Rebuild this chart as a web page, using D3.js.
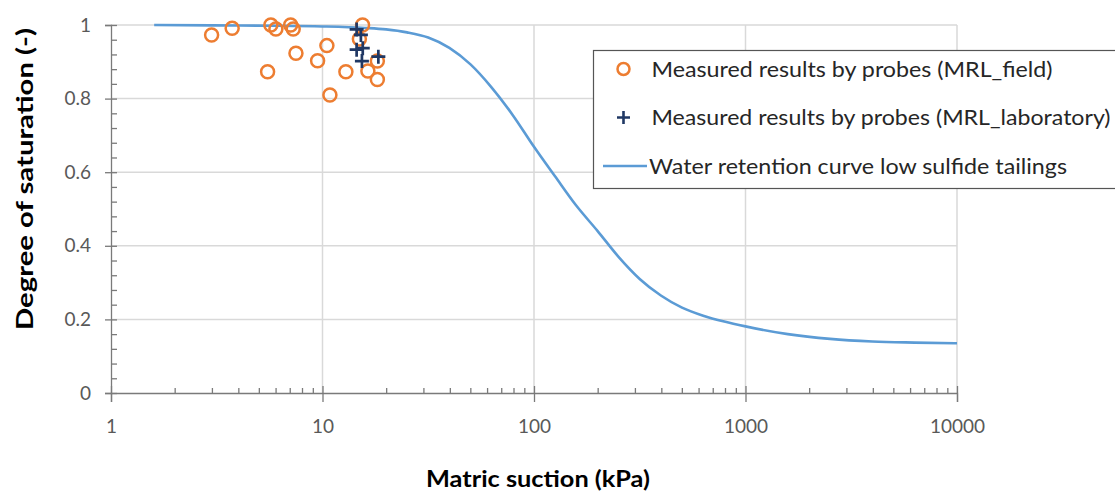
<!DOCTYPE html>
<html><head><meta charset="utf-8">
<script src="https://cdn.jsdelivr.net/npm/d3@7"></script>
<style>
body{margin:0;background:#fff;}
svg{display:block;font-family:Lato,"Open Sans",sans-serif;}
</style>
</head><body>
<svg id="chart" width="1115" height="491"></svg>
<script>
// ---- data ----
const fieldSuction    = [2.99, 3.74, 5.70, 6.02, 7.07, 7.27, 5.50, 7.49, 9.48, 10.49, 10.84, 15.47, 14.94, 12.90, 16.39, 18.17, 18.17];
const fieldSaturation = [0.973, 0.991, 1.0, 0.989, 1.0, 0.989, 0.873, 0.923, 0.903, 0.944, 0.810, 1.0, 0.962, 0.873, 0.875, 0.852, 0.902];
const labSuction      = [14.5, 15.19, 14.5, 15.5, 15.36, 18.37];
const labSaturation   = [0.988, 0.973, 0.933, 0.937, 0.902, 0.914];
const curveSuction    = [1.6, 3, 6, 10, 15.8, 20, 25.1, 31.6, 39.8, 50.1, 63.1, 79.4, 100, 126, 158, 200, 251, 316, 398, 501, 631, 794, 1000, 1585, 2512, 3981, 6310, 10000];
const curveSaturation = [1.0, 0.999, 0.998, 0.996, 0.992, 0.988, 0.980, 0.966, 0.938, 0.893, 0.830, 0.755, 0.669, 0.588, 0.510, 0.440, 0.370, 0.310, 0.265, 0.232, 0.210, 0.194, 0.181, 0.160, 0.147, 0.140, 0.137, 0.135];
const xTickValues = [1, 10, 100, 1000, 10000];
const xTickLabels = ["1", "10", "100", "1000", "10000"];
const yTickValues = [0, 0.2, 0.4, 0.6, 0.8, 1];
const yTickLabels = ["0", "0.2", "0.4", "0.6", "0.8", "1"];
const legendLabels = [
  "Measured results by probes (MRL_field)",
  "Measured results by probes (MRL_laboratory)",
  "Water retention curve low sulfide tailings"
];
const xTitle = "Matric suction (kPa)";
const yTitle = "Degree of saturation (-)";

// ---- layout ----
const svg = d3.select("#chart");
const pLeft = 111, pRight = 957, pTop = 25, pBottom = 393;
const x = d3.scaleLog().domain([1, 10000]).range([pLeft, pRight]);
const y = d3.scaleLinear().domain([0, 1]).range([pBottom, pTop]);

const orange = "#ED7D31", navy = "#203864", blue = "#5B9BD5";
const axisColor = "#7a7a7a", gridColor = "#d9d9d9", labelColor = "#595959";

// gridlines
const grid = svg.append("g");
grid.selectAll("line.h").data(yTickValues.filter(v => v > 0)).join("line").attr("class", "h")
  .attr("x1", pLeft).attr("x2", pRight).attr("y1", d => y(d)).attr("y2", d => y(d))
  .attr("stroke", gridColor).attr("stroke-width", 1.5);
grid.selectAll("line.v").data(xTickValues.filter(v => v > 1)).join("line").attr("class", "v")
  .attr("x1", d => x(d)).attr("x2", d => x(d)).attr("y1", pTop).attr("y2", pBottom)
  .attr("stroke", gridColor).attr("stroke-width", 1.5);

// minor tick values (2..9 per decade, 0.04 steps)
const xMinor = [];
for (let d = 1; d < 10000; d *= 10) for (let k = 2; k <= 9; k++) xMinor.push(d * k);
const yMinor = d3.range(0, 1.0001, 0.04).filter(v => Math.abs(v * 5 - Math.round(v * 5)) > 1e-6);

// x axis
const gx = svg.append("g").attr("transform", `translate(0,${pBottom})`)
  .call(d3.axisBottom(x).tickValues(xTickValues).tickSize(9).tickPadding(18)
    .tickFormat((d, i) => xTickLabels[i]));
gx.selectAll(".tick line").attr("y1", -7);
const gxm = svg.append("g").attr("transform", `translate(0,${pBottom})`)
  .call(d3.axisTop(x).tickValues(xMinor).tickSize(5).tickFormat(""));
gxm.select(".domain").remove();

// y axis
const gy = svg.append("g").attr("transform", `translate(${pLeft},0)`)
  .call(d3.axisLeft(y).tickValues(yTickValues).tickSize(6).tickPadding(14)
    .tickFormat((d, i) => yTickLabels[i]));
gy.selectAll(".tick line").attr("x1", 6);
const gym = svg.append("g").attr("transform", `translate(${pLeft},0)`)
  .call(d3.axisRight(y).tickValues(yMinor).tickSize(6).tickFormat(""));
gym.select(".domain").remove();

svg.selectAll(".domain, .tick line").attr("stroke", axisColor).attr("stroke-width", 1.3);
svg.selectAll(".tick text").attr("fill", labelColor).attr("font-size", 19)
  .attr("font-family", "Lato, 'Open Sans', sans-serif");

// curve
const line = d3.line().x((d, i) => x(curveSuction[i])).y(d => y(d)).curve(d3.curveMonotoneX);
svg.append("path").datum(curveSaturation).attr("d", line)
  .attr("fill", "none").attr("stroke", blue).attr("stroke-width", 2.6);

// field circles
svg.append("g").selectAll("circle").data(fieldSuction).join("circle")
  .attr("cx", d => x(d)).attr("cy", (d, i) => y(fieldSaturation[i])).attr("r", 6.5)
  .attr("fill", "none").attr("stroke", orange).attr("stroke-width", 2.5);

// lab plus markers
const plus = s => `M${-s},0H${s}M0,${-s}V${s}`;
svg.append("g").selectAll("path").data(labSuction).join("path")
  .attr("transform", (d, i) => `translate(${x(d)},${y(labSaturation[i])})`)
  .attr("d", plus(7)).attr("stroke", navy).attr("stroke-width", 2.7).attr("fill", "none");

// axis titles
svg.append("text").text(xTitle).attr("x", 538).attr("y", 487)
  .attr("text-anchor", "middle").attr("font-weight", "bold").attr("font-size", 22)
  .attr("fill", "#000").attr("textLength", 224).attr("lengthAdjust", "spacingAndGlyphs");
svg.append("text").text(yTitle)
  .attr("transform", "translate(33,179) rotate(-90)")
  .attr("text-anchor", "middle").attr("font-weight", "bold").attr("font-size", 22)
  .attr("fill", "#000").attr("textLength", 302).attr("lengthAdjust", "spacingAndGlyphs");

// legend
const lg = svg.append("g");
lg.append("rect").attr("x", 593.5).attr("y", 50.5).attr("width", 600).attr("height", 138)
  .attr("fill", "#fff").attr("stroke", "#555").attr("stroke-width", 1.2);
const rows = [69, 117.5, 166];
const textLens = [401, 459, 418];
const textX = [651.5, 651.5, 649];
lg.append("circle").attr("cx", 623.5).attr("cy", rows[0]).attr("r", 6)
  .attr("fill", "none").attr("stroke", orange).attr("stroke-width", 2.5);
lg.append("path").attr("transform", `translate(623.5,${rows[1]})`).attr("d", plus(6.5))
  .attr("stroke", navy).attr("stroke-width", 2.6);
lg.append("line").attr("x1", 603).attr("x2", 647).attr("y1", rows[2]).attr("y2", rows[2])
  .attr("stroke", blue).attr("stroke-width", 2.6);
lg.selectAll("text").data(legendLabels).join("text")
  .attr("x", (d, i) => textX[i]).attr("y", (d, i) => rows[i] + 7.5)
  .attr("font-size", 21).attr("fill", "#262626")
  .attr("textLength", (d, i) => textLens[i]).attr("lengthAdjust", "spacingAndGlyphs")
  .text(d => d);
</script>
</body></html>
